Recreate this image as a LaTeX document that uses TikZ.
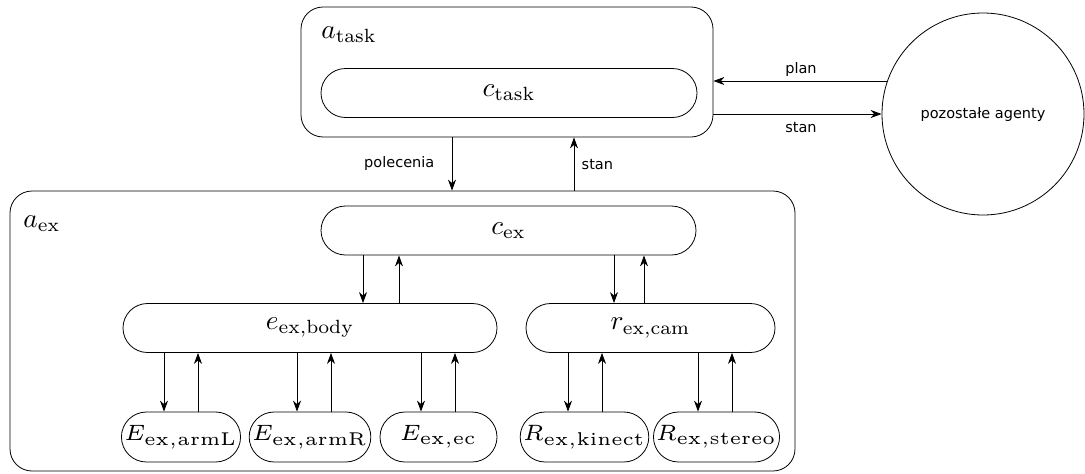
\RequirePackage{fix-cm}
\documentclass[tikz,border=0pt]{standalone}
\usepackage{fontspec}
\newfontfamily\dv{DejaVu Sans}
\usetikzlibrary{shapes.misc,arrows.meta,calc}
\newcommand\tlab[1]{\scalebox{2.73}{\fontsize{10}{12}\selectfont$#1$}}
\newcommand\blab[1]{\scalebox{3.7}{\fontsize{6}{7}\selectfont$#1$}}
\begin{document}
\begin{tikzpicture}[x=1pt,y=-1pt,
  line width=0.8pt,
  sfont/.style={font=\dv\fontsize{14.5}{17}\selectfont},
  pill/.style={draw,rounded rectangle,inner sep=0pt,minimum height=49pt},
  cont/.style={draw,rounded corners=22pt},
  arr/.style={-{Stealth[length=11pt,width=8pt,inset=3.5pt]}}]
\useasboundingbox (0,0) rectangle (1085,474);
% containers
\draw[cont] (301,7) rectangle (713,137);
\node[draw=none,inner sep=0pt,minimum width=412pt,minimum height=130pt] (a_task) at (507,72) {};
\node[anchor=base west,inner sep=0pt] (lbl_atask) at (321,38) {\tlab{a_{\mathrm{task}}}};
\draw[cont] (10,191) rectangle (795,471);
\node[draw=none,inner sep=0pt,minimum width=785pt,minimum height=280pt] (a_ex) at (402.5,331) {};
\node[anchor=base west,inner sep=0pt] (lbl_aex) at (23,227) {\tlab{a_{\mathrm{ex}}}};
% pills
\node[pill,minimum width=376pt] (c_task) at (509,93) {\tlab{c_{\mathrm{task}}}};
\node[pill,minimum width=375pt] (c_ex) at (508.5,230.5) {\tlab{c_{\mathrm{ex}}}};
\node[pill,minimum width=374pt] (e_body) at (310,328) {\tlab{e_{\mathrm{ex,body}}}};
\node[pill,minimum width=249pt] (r_cam) at (650.5,328) {\tlab{r_{\mathrm{ex,cam}}}};
\node[pill,minimum width=118pt,minimum height=50pt] (E_L) at (181,437) {\blab{E_{\mathrm{ex,armL}}}};
\node[pill,minimum width=118pt,minimum height=50pt] (E_R) at (310,437) {\blab{E_{\mathrm{ex,armR}}}};
\node[pill,minimum width=117pt,minimum height=50pt] (E_ec) at (438.5,437) {\blab{E_{\mathrm{ex,ec}}}};
\node[pill,minimum width=117pt,minimum height=50pt] (R_k) at (584.5,437) {\blab{R_{\mathrm{ex,kinect}}}};
\node[pill,minimum width=117pt,minimum height=50pt] (R_s) at (716.5,437) {\blab{R_{\mathrm{ex,stereo}}}};
% circle
\node[draw,circle,minimum size=202pt,inner sep=0pt,sfont] (circ) at (983,114) {pozostałe agenty};
% task <-> ex
\draw[arr] ([xshift=49.5pt]a_ex.north |- a_task.south) -- ([xshift=49.5pt]a_ex.north);
\draw[arr] ([xshift=171.5pt]a_ex.north) -- ([xshift=171.5pt]a_ex.north |- a_task.south);
\node[sfont,anchor=east] (lbl_pol) at (438,163) {polecenia};
\node[sfont,anchor=west] (lbl_stan1) at (578,165) {stan};
% task <-> others
\draw[arr] (circ.161) -- (circ.161 -| a_task.east);
\draw[arr] (a_task.east |- circ.west) -- (circ.west);
\node[sfont] (lbl_plan) at (801,69) {plan};
\node[sfont] (lbl_stan2) at (801,128) {stan};
% c_ex -> e_body / r_cam
\coordinate (k1) at (363,0);
\coordinate (k2) at (399,0);
\coordinate (k3) at (614,0);
\coordinate (k4) at (644,0);
\draw[arr] (k1 |- c_ex.south) -- (k1 |- e_body.north);
\draw[arr] (k2 |- e_body.north) -- (k2 |- c_ex.south);
\draw[arr] (k3 |- c_ex.south) -- (k3 |- r_cam.north);
\draw[arr] (k4 |- r_cam.north) -- (k4 |- c_ex.south);
% e_body / r_cam -> leaves
\foreach \n/\p/\dl/\dr in {E_L/e_body/-17/17,E_R/e_body/-13/21,E_ec/e_body/-17.5/16.5,R_k/r_cam/-16.5/17.5,R_s/r_cam/-18.5/15.5}{
  \draw[arr] ([xshift=\dl pt]\n.north |- \p.south) -- ([xshift=\dl pt]\n.north);
  \draw[arr] ([xshift=\dr pt]\n.north) -- ([xshift=\dr pt]\n.north |- \p.south);
}
\end{tikzpicture}
\end{document}
